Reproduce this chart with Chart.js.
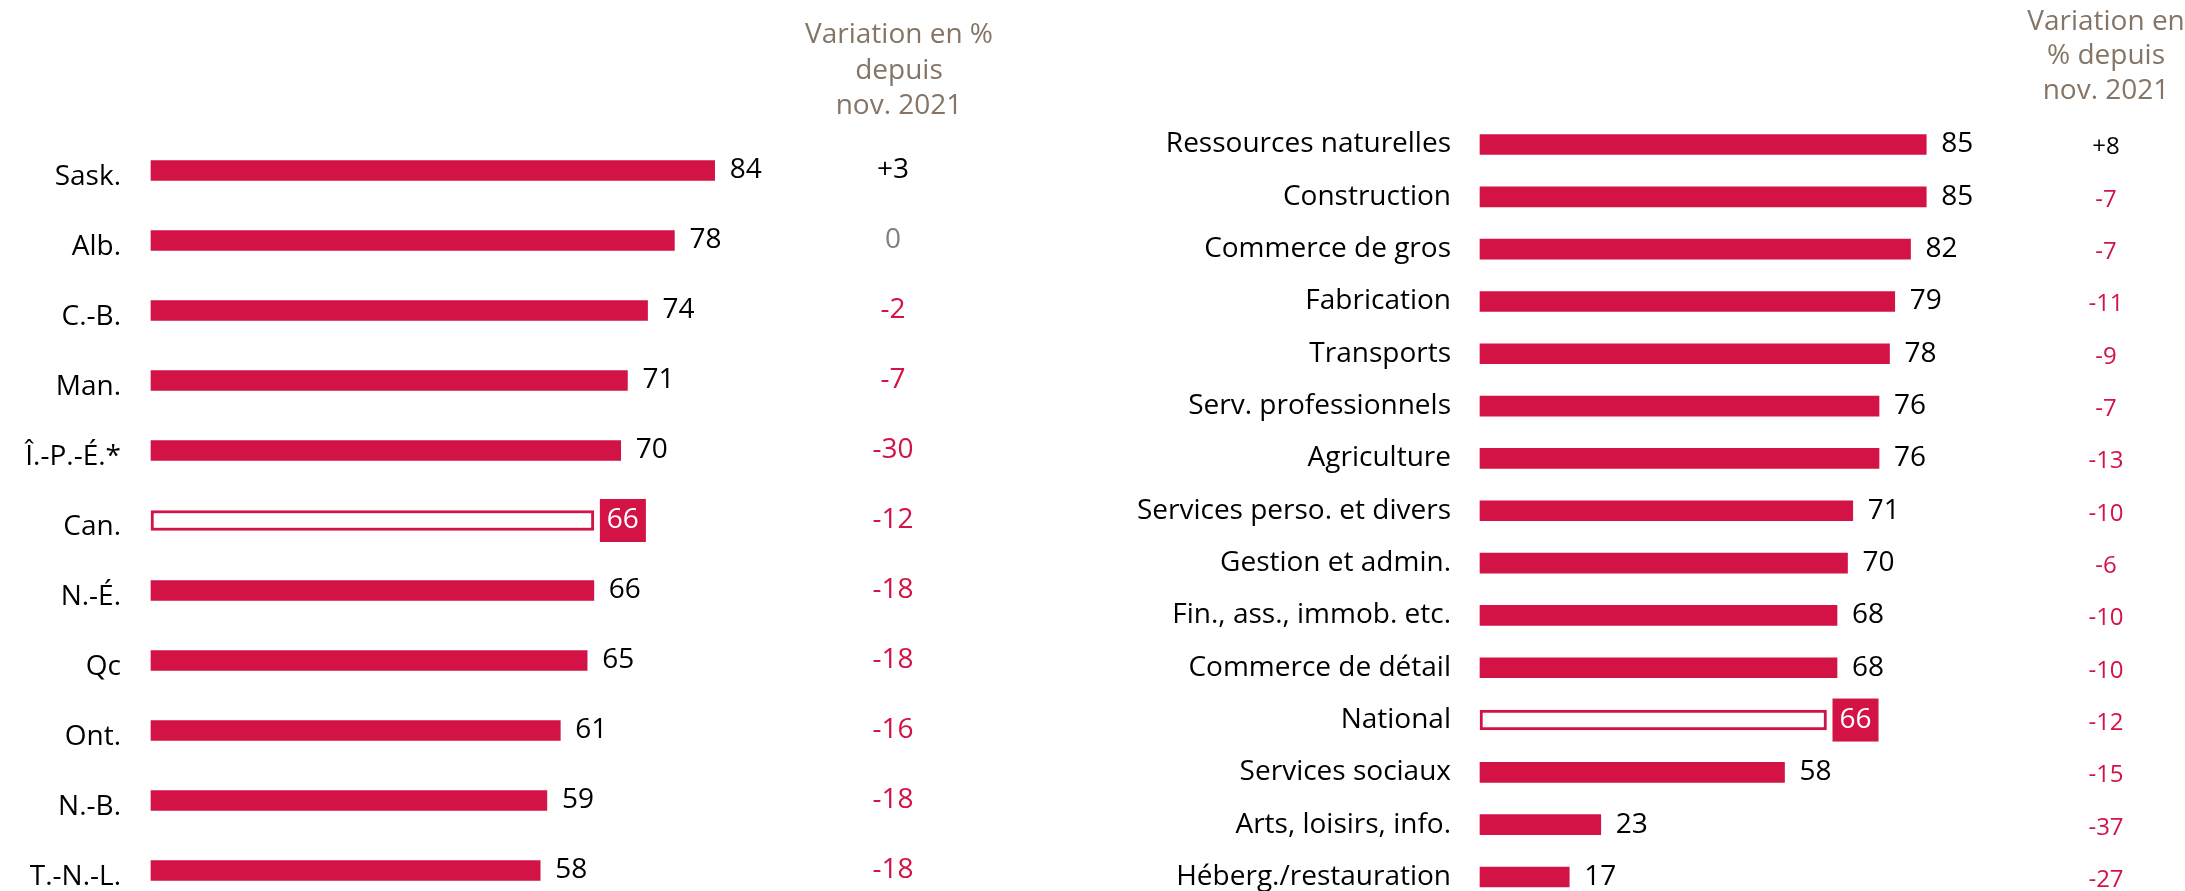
<!DOCTYPE html>
<html>
<head>
<meta charset="utf-8">
<script src="https://cdn.jsdelivr.net/npm/chart.js@4.4.1/dist/chart.umd.min.js"></script>
<style>
  html, body { margin: 0; padding: 0; background: #fff; }
  #wrap { position: relative; width: 2185px; height: 891px; overflow: hidden; }
  #left { position: absolute; left: 0; top: 0; }
  #right { position: absolute; left: 1100px; top: 0; }
</style>
</head>
<body>
<div id="wrap">
  <canvas id="left" width="1100" height="891"></canvas>
  <canvas id="right" width="1085" height="891"></canvas>
</div>
<script>
// provinces
const provinces = ["Sask.", "Alb.", "C.-B.", "Man.", "Î.-P.-É.*", "Can.", "N.-É.", "Qc", "Ont.", "N.-B.", "T.-N.-L."]
const provValues = [84, 78, 74, 71, 70, 66, 66, 65, 61, 59, 58]
const provChanges = ["+3", "0", "-2", "-7", "-30", "-12", "-18", "-18", "-16", "-18", "-18"]

// industries
const industries = [
  "Ressources naturelles", "Construction", "Commerce de gros", "Fabrication", "Transports",
  "Serv. professionnels", "Agriculture", "Services perso. et divers", "Gestion et admin.",
  "Fin., ass., immob. etc.", "Commerce de détail", "National", "Services sociaux",
  "Arts, loisirs, info.", "Héberg./restauration"
]
const indValues = [85, 85, 82, 79, 78, 76, 76, 71, 70, 68, 68, 66, 58, 23, 17]
const indChanges = ["+8", "-7", "-7", "-11", "-9", "-7", "-13", "-10", "-6", "-10", "-10", "-12", "-15", "-37", "-27"]

const headerLeft = ["Variation en %", "depuis", "nov. 2021"]
const headerRight = ["Variation en", "% depuis", "nov. 2021"]

const RED = "#D31245"
const BROWN = "#857566"
const FONT = "'Open Sans', sans-serif"

function changeColor(txt) {
  if (txt.startsWith("+")) return "#000"
  if (txt === "0") return "#808080"
  return RED
}

// draws value labels, the highlighted total box and the variation column
const annotPlugin = {
  id: "annot",
  afterDatasetsDraw(chart, args, opts) {
    const ctx = chart.ctx
    const meta = chart.getDatasetMeta(0)
    const values = chart.data.datasets[0].data
    ctx.save()
    meta.data.forEach((bar, i) => {
      const label = String(values[i])
      ctx.font = `28px ${FONT}`
      ctx.textBaseline = "middle"
      if (i === opts.highlight) {
        const w = ctx.measureText(label).width + 14
        ctx.fillStyle = RED
        ctx.fillRect(bar.x + 6, bar.y - 21.5, w, 43)
        ctx.fillStyle = "#fff"
        ctx.textAlign = "left"
        ctx.fillText(label, bar.x + 13, bar.y)
      } else {
        ctx.fillStyle = "#000"
        ctx.textAlign = "left"
        ctx.fillText(label, bar.x + 15, bar.y)
      }
      const ch = opts.changes[i]
      ctx.font = `${opts.changeSize}px ${FONT}`
      ctx.fillStyle = changeColor(ch)
      ctx.textAlign = "center"
      ctx.fillText(ch, opts.colX, bar.y + opts.changeDy)
    })
    // column header
    ctx.font = `28px ${FONT}`
    ctx.fillStyle = BROWN
    ctx.textAlign = "center"
    opts.header.forEach((line, k) => {
      ctx.fillText(line, opts.headX, opts.headerY + k * opts.headGap)
    })
    ctx.restore()
  }
}

function makeChart(id, labels, values, changes, opts) {
  const hi = labels.indexOf(opts.hiLabel)
  new Chart(document.getElementById(id), {
    type: "bar",
    data: {
      labels,
      datasets: [{
        data: values,
        backgroundColor: labels.map((l, i) => i === hi ? "#fff" : RED),
        borderColor: RED,
        borderWidth: labels.map((l, i) => i === hi ? 3 : 0),
        borderSkipped: false,
        barThickness: 20,
        clip: false
      }]
    },
    options: {
      indexAxis: "y",
      responsive: false,
      animation: false,
      layout: { padding: { top: opts.top, bottom: opts.bottom, left: 0, right: opts.right } },
      plugins: {
        legend: { display: false },
        tooltip: { enabled: false },
        annot: {
          highlight: hi,
          changes,
          colX: opts.colX,
          headX: opts.headX,
          changeSize: opts.changeSize,
          changeDy: opts.changeDy,
          header: opts.header,
          headerY: opts.headerY,
          headGap: opts.headGap
        }
      },
      scales: {
        x: { display: false, min: 0, max: 100 },
        y: {
          offset: false,
          grid: { display: false, drawTicks: false },
          border: { display: false },
          ticks: {
            color: "#000",
            font: { family: FONT, size: 28 },
            padding: opts.tickPad,
            labelOffset: opts.labelOffset
          },
          afterFit(scale) {
            scale.width = opts.axisW
            scale.paddingTop = 0
            scale.paddingBottom = 0
          }
        }
      }
    },
    plugins: [annotPlugin]
  })
}

makeChart("left", provinces, provValues, provChanges, {
  hiLabel: "Can.",
  top: 170.5, bottom: 20.5, right: 278, axisW: 151,
  tickPad: 30, labelOffset: 7,
  colX: 893, headX: 899, changeSize: 28, changeDy: 0,
  header: headerLeft, headerY: 35.5, headGap: 35.5
})

makeChart("right", industries, indValues, indChanges, {
  hiLabel: "National",
  top: 144.5, bottom: 14, right: 180, axisW: 380,
  tickPad: 29, labelOffset: 0,
  colX: 1006, headX: 1006, changeSize: 24, changeDy: 3,
  header: headerRight, headerY: 22, headGap: 34.5
})
</script>
</body>
</html>
